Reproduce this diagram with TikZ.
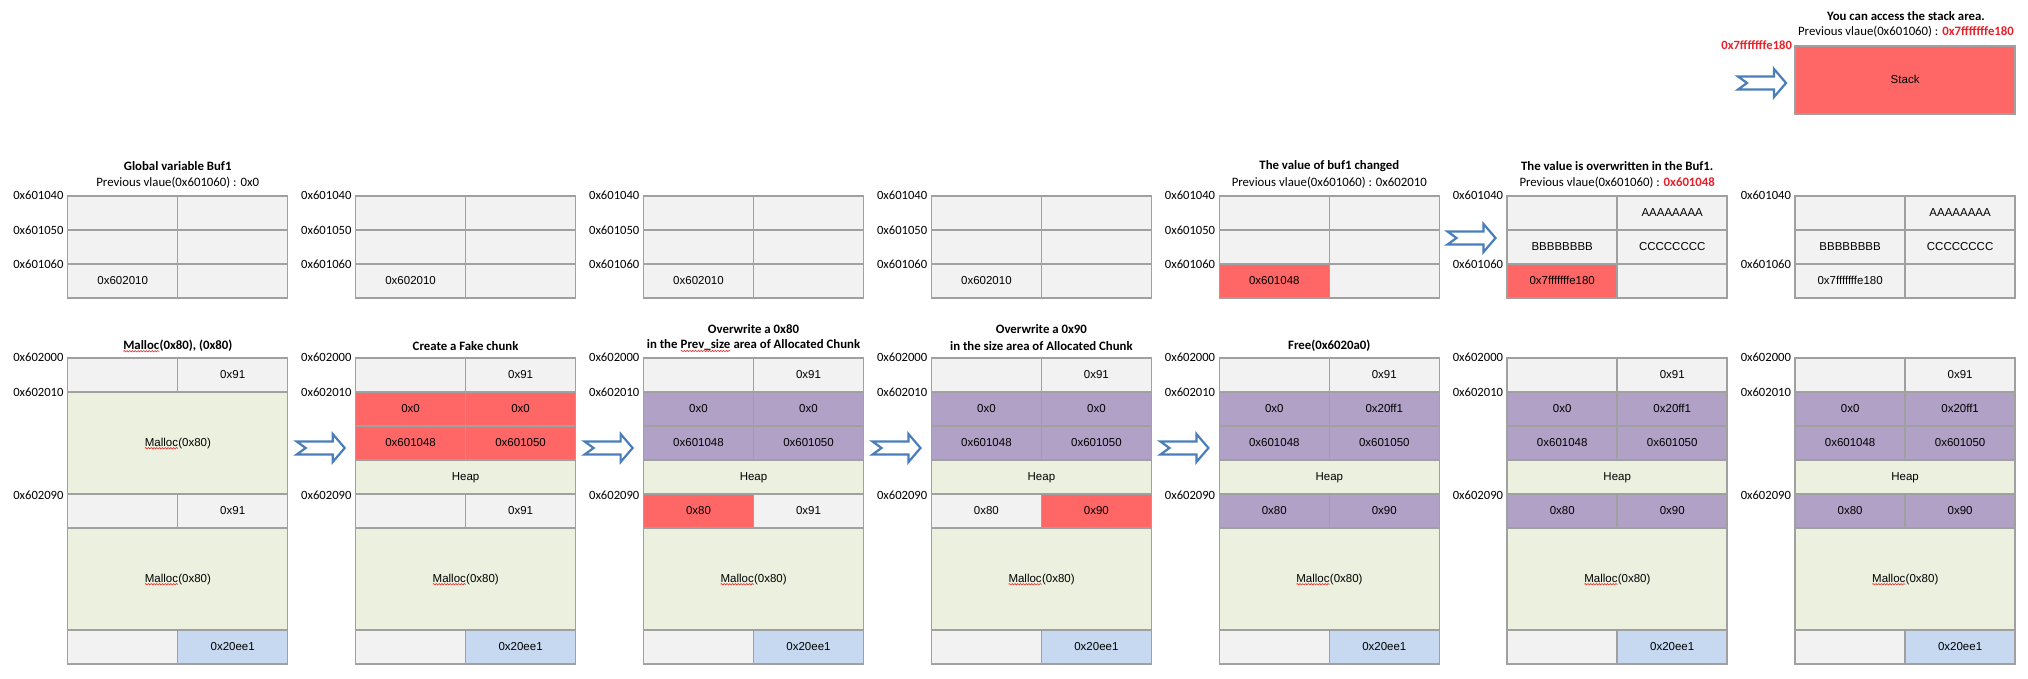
\documentclass[tikz,border=0pt]{standalone}
\usepackage{fontspec}
\setmainfont{Carlito}
\newfontfamily\cellf{Liberation Sans}
\usetikzlibrary{decorations.pathmorphing}
\definecolor{cgray}{HTML}{F2F2F2}
\definecolor{linec}{HTML}{A0A0A0}
\definecolor{cgreen}{HTML}{EBF1DE}
\definecolor{cred}{HTML}{FF6666}
\definecolor{cpurple}{HTML}{B2A1C7}
\definecolor{cblue}{HTML}{C6D9F1}
\definecolor{arrowc}{HTML}{4A7EBB}
\definecolor{redt}{HTML}{E8202A}
\definecolor{squigc}{HTML}{E03030}
\tikzset{
  cell/.style={draw=linec, line width=1.5pt, inner sep=0pt, minimum width=110pt, minimum height=34pt,
    font=\cellf\fontsize{11.5}{13}\selectfont, text height=8.5pt, text depth=2pt},
  addr/.style={anchor=east, inner sep=0pt, font=\fontsize{12.6}{14}\selectfont},
  ttl/.style={inner sep=0pt, font=\bfseries\fontsize{12.8}{15}\selectfont},
  sub/.style={inner sep=0pt, font=\fontsize{12.8}{15}\selectfont},
  barrow/.style={draw=arrowc, line width=2.2pt, fill=white, line join=miter},
  sqline/.style={draw=squigc, line width=0.6pt, decorate, decoration={snake, amplitude=0.7pt, segment length=2.8pt}}
}
\newcommand\sq[1]{\tikz[baseline=(sqt.base)]{\node[inner sep=0pt, outer sep=0pt, draw=none, fill=none, minimum width=0pt, minimum height=0pt, text height=, text depth=] (sqt) {#1}; \draw[sqline] ([yshift=-2pt]sqt.base west) -- ([yshift=-2pt]sqt.base east);}}
% name, x, y, fillA, textA, fillB, textB
\newcommand\Row[7]{%
  \node[cell, fill=#4] (#1a) at (#2+55, #3+17) {#5};
  \node[cell, fill=#6] (#1b) at (#2+165, #3+17) {#7};}
% name, x, y, h, fill, text
\newcommand\Full[6]{%
  \node[cell, fill=#5, minimum width=220pt, minimum height=#4pt] (#1) at (#2+110, #3+#4/2) {#6};}
% heap common parts: id, x
\newcommand\HeapBase[2]{%
  \Row{#1r0}{#2}{358}{cgray}{}{cgray}{0x91}
  \Full{#1m2}{#2}{528}{102}{cgreen}{\sq{Malloc}(0x80)}
  \Row{#1bt}{#2}{630}{cgray}{}{cblue}{0x20ee1}
  \node[addr] (#1ad0) at (#2-4,357) {0x602000};
  \node[addr] (#1ad1) at (#2-4,392) {0x602010};
  \node[addr] (#1ad2) at (#2-4,495) {0x602090};}
\newcommand\BArr[2]{\draw[barrow] (#1,#2) ++(0,-6.5) -- ++(36,0) -- ++(0,-7.5) -- ++(12,14) -- ++(-12,14) -- ++(0,-7.5) -- ++(-36,0) -- ++(9,-6.5) -- cycle;}
\def\Pa{67.7}\def\Pb{355.6}\def\Pc{643.5}\def\Pd{931.4}\def\Pe{1219.3}\def\Pf{1507.2}\def\Pg{1795.1}
\begin{document}
\begin{tikzpicture}[x=1pt, y=-1pt]
\useasboundingbox (0,0) rectangle (2028,679);
\fill[white] (0,0) rectangle (2028,679);

% ---------------- top row (Buf1) ----------------
% panel 1
\node[ttl] (t1a) at (\Pa+110,166) {Global variable Buf1};
\node[sub] (t1b) at (\Pa+110,183) {Previous vlaue(0x601060) : 0x0};
\Row{g1r1}{\Pa}{196}{cgray}{}{cgray}{}
\Row{g1r2}{\Pa}{230}{cgray}{}{cgray}{}
\Row{g1r3}{\Pa}{264}{cgray}{0x602010}{cgray}{}
\node[addr] (g1l1) at (\Pa-4,195) {0x601040};
\node[addr] (g1l2) at (\Pa-4,230) {0x601050};
\node[addr] (g1l3) at (\Pa-4,264.5) {0x601060};
% panel 2
\Row{g2r1}{\Pb}{196}{cgray}{}{cgray}{}
\Row{g2r2}{\Pb}{230}{cgray}{}{cgray}{}
\Row{g2r3}{\Pb}{264}{cgray}{0x602010}{cgray}{}
\node[addr] (g2l1) at (\Pb-4,195) {0x601040};
\node[addr] (g2l2) at (\Pb-4,230) {0x601050};
\node[addr] (g2l3) at (\Pb-4,264.5) {0x601060};
% panel 3
\Row{g3r1}{\Pc}{196}{cgray}{}{cgray}{}
\Row{g3r2}{\Pc}{230}{cgray}{}{cgray}{}
\Row{g3r3}{\Pc}{264}{cgray}{0x602010}{cgray}{}
\node[addr] (g3l1) at (\Pc-4,195) {0x601040};
\node[addr] (g3l2) at (\Pc-4,230) {0x601050};
\node[addr] (g3l3) at (\Pc-4,264.5) {0x601060};
% panel 4
\Row{g4r1}{\Pd}{196}{cgray}{}{cgray}{}
\Row{g4r2}{\Pd}{230}{cgray}{}{cgray}{}
\Row{g4r3}{\Pd}{264}{cgray}{0x602010}{cgray}{}
\node[addr] (g4l1) at (\Pd-4,195) {0x601040};
\node[addr] (g4l2) at (\Pd-4,230) {0x601050};
\node[addr] (g4l3) at (\Pd-4,264.5) {0x601060};
% panel 5
\node[ttl] (t5a) at (\Pe+110,166) {The value of buf1 changed};
\node[sub] (t5b) at (\Pe+110,183) {Previous vlaue(0x601060) : 0x602010};
\Row{g5r1}{\Pe}{196}{cgray}{}{cgray}{}
\Row{g5r2}{\Pe}{230}{cgray}{}{cgray}{}
\Row{g5r3}{\Pe}{264}{cred}{0x601048}{cgray}{}
\node[addr] (g5l1) at (\Pe-4,195) {0x601040};
\node[addr] (g5l2) at (\Pe-4,230) {0x601050};
\node[addr] (g5l3) at (\Pe-4,264.5) {0x601060};
% panel 6
\node[ttl] (t6a) at (\Pf+110,166) {The value is overwritten in the Buf1.};
\node[sub] (t6b) at (\Pf+110,183) {Previous vlaue(0x601060) : \textcolor{redt}{\bfseries 0x601048}};
\Row{g6r1}{\Pf}{196}{cgray}{}{cgray}{AAAAAAAA}
\Row{g6r2}{\Pf}{230}{cgray}{BBBBBBBB}{cgray}{CCCCCCCC}
\Row{g6r3}{\Pf}{264}{cred}{0x7fffffffe180}{cgray}{}
\node[addr] (g6l1) at (\Pf-4,195) {0x601040};
\node[addr] (g6l3) at (\Pf-4,264.5) {0x601060};
% panel 7
\Row{g7r1}{\Pg}{196}{cgray}{}{cgray}{AAAAAAAA}
\Row{g7r2}{\Pg}{230}{cgray}{BBBBBBBB}{cgray}{CCCCCCCC}
\Row{g7r3}{\Pg}{264}{cgray}{0x7fffffffe180}{cgray}{}
\node[addr] (g7l1) at (\Pg-4,195) {0x601040};
\node[addr] (g7l3) at (\Pg-4,264.5) {0x601060};
\BArr{1447.5}{238}

% ---------------- stack ----------------
\node[ttl] (sta) at (1906,16) {You can access the stack area.};
\node[sub] (stb) at (1906,32) {Previous vlaue(0x601060) : \textcolor{redt}{\bfseries 0x7fffffffe180}};
\node[cell, fill=cred, minimum width=220pt, minimum height=68pt] (stack) at (\Pg+110,80) {Stack};
\node[addr, font=\bfseries\fontsize{12.6}{14}\selectfont, text=redt] (stl) at (\Pg-3,45) {0x7fffffffe180};
\BArr{1738}{83}

% ---------------- heap row ----------------
% panel 1
\node[ttl] (h1t) at (\Pa+110,346) {\sq{Malloc}(0x80), (0x80)};
\HeapBase{h1}{\Pa}
\Full{h1m1}{\Pa}{392}{102}{cgreen}{\sq{Malloc}(0x80)}
\Row{h1r4}{\Pa}{494}{cgray}{}{cgray}{0x91}
% panel 2
\node[ttl] (h2t) at (\Pb+110,346) {Create a Fake chunk};
\HeapBase{h2}{\Pb}
\Row{h2r1}{\Pb}{392}{cred}{0x0}{cred}{0x0}
\Row{h2r2}{\Pb}{426}{cred}{0x601048}{cred}{0x601050}
\Full{h2hp}{\Pb}{460}{34}{cgreen}{Heap}
\Row{h2r4}{\Pb}{494}{cgray}{}{cgray}{0x91}
% panel 3
\node[ttl] (h3ta) at (\Pc+110,329) {Overwrite a 0x80};
\node[ttl] (h3tb) at (\Pc+110,346) {in the \sq{Prev\_size} area of Allocated Chunk};
\HeapBase{h3}{\Pc}
\Row{h3r1}{\Pc}{392}{cpurple}{0x0}{cpurple}{0x0}
\Row{h3r2}{\Pc}{426}{cpurple}{0x601048}{cpurple}{0x601050}
\Full{h3hp}{\Pc}{460}{34}{cgreen}{Heap}
\Row{h3r4}{\Pc}{494}{cred}{0x80}{cgray}{0x91}
% panel 4
\node[ttl] (h4ta) at (\Pd+110,329) {Overwrite a 0x90};
\node[ttl] (h4tb) at (\Pd+110,346) {in the size area of Allocated Chunk};
\HeapBase{h4}{\Pd}
\Row{h4r1}{\Pd}{392}{cpurple}{0x0}{cpurple}{0x0}
\Row{h4r2}{\Pd}{426}{cpurple}{0x601048}{cpurple}{0x601050}
\Full{h4hp}{\Pd}{460}{34}{cgreen}{Heap}
\Row{h4r4}{\Pd}{494}{cgray}{0x80}{cred}{0x90}
% panel 5
\node[ttl] (h5t) at (\Pe+110,346) {Free(0x6020a0)};
\HeapBase{h5}{\Pe}
\Row{h5r1}{\Pe}{392}{cpurple}{0x0}{cpurple}{0x20ff1}
\Row{h5r2}{\Pe}{426}{cpurple}{0x601048}{cpurple}{0x601050}
\Full{h5hp}{\Pe}{460}{34}{cgreen}{Heap}
\Row{h5r4}{\Pe}{494}{cpurple}{0x80}{cpurple}{0x90}
% panel 6
\HeapBase{h6}{\Pf}
\Row{h6r1}{\Pf}{392}{cpurple}{0x0}{cpurple}{0x20ff1}
\Row{h6r2}{\Pf}{426}{cpurple}{0x601048}{cpurple}{0x601050}
\Full{h6hp}{\Pf}{460}{34}{cgreen}{Heap}
\Row{h6r4}{\Pf}{494}{cpurple}{0x80}{cpurple}{0x90}
% panel 7
\HeapBase{h7}{\Pg}
\Row{h7r1}{\Pg}{392}{cpurple}{0x0}{cpurple}{0x20ff1}
\Row{h7r2}{\Pg}{426}{cpurple}{0x601048}{cpurple}{0x601050}
\Full{h7hp}{\Pg}{460}{34}{cgreen}{Heap}
\Row{h7r4}{\Pg}{494}{cpurple}{0x80}{cpurple}{0x90}
% arrows
\BArr{\Pa+229}{448}
\BArr{\Pb+229}{448}
\BArr{\Pc+229}{448}
\BArr{\Pd+229}{448}
\end{tikzpicture}
\end{document}
